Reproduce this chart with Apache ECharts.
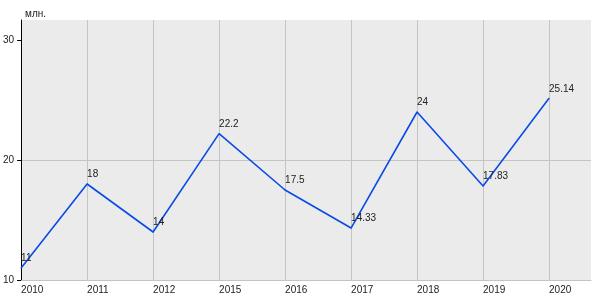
<!DOCTYPE html>
<html><head><meta charset="utf-8">
<script src="https://cdn.jsdelivr.net/npm/echarts@6/dist/echarts.min.js"></script>
<style>html,body{margin:0;padding:0;background:#fff}#c{width:600px;height:300px}</style>
</head><body><div id="c"></div>
<script>
const categories = ['2010','2011','2012','2015','2016','2017','2018','2019','2020'];
const values = [11, 18, 14, 22.2, 17.5, 14.33, 24, 17.83, 25.14];
const yTicks = [10, 20, 30];
const unitLabel = 'млн.';

const chart = echarts.init(document.getElementById('c'), null, {renderer:'canvas'});
const xIdx = categories.map((c,i)=>i);
const FF = 'Liberation Sans, Arial, sans-serif';
chart.setOption({
  animation:false,
  textStyle:{fontFamily:FF},
  title:{text:unitLabel, left:20, top:4, textStyle:{fontSize:10, fontWeight:'normal', color:'#222', fontFamily:FF}},
  grid:{left:21, right:9, top:20, bottom:20, show:true, backgroundColor:'#ebebeb', borderWidth:0},
  xAxis:{type:'value', min:0, max:8.636, interval:1,
    axisLine:{show:true, lineStyle:{color:'#c4c4c4', width:1}},
    axisTick:{show:false},
    axisLabel:{customValues:xIdx, formatter:v=>categories[Math.round(v)], align:'left', margin:5, fontSize:10, color:'#222'},
    splitLine:{show:true, showMinLine:false, showMaxLine:false, lineStyle:{color:'#c4c4c4', width:1}}
  },
  yAxis:{type:'value', min:10, max:31.667, interval:10,
    axisLine:{show:true, lineStyle:{color:'#000', width:1}},
    axisTick:{show:true, customValues:yTicks, length:4, lineStyle:{color:'#000'}},
    axisLabel:{customValues:yTicks, margin:7, fontSize:10, color:'#222'},
    splitLine:{show:true, showMinLine:false, showMaxLine:false, lineStyle:{color:'#c4c4c4', width:1}}
  },
  series:[{type:'line', data:values.map((v,i)=>[i,v]), showSymbol:true, showAllSymbol:true, symbol:'circle', symbolSize:1,
    itemStyle:{color:'#0a4be6'},
    lineStyle:{color:'#0a4be6', width:1.6},
    label:{show:true, position:'top', align:'left', distance:4, fontSize:10, color:'#222', formatter:p=>String(values[p.dataIndex])},
    labelLayout:{hideOverlap:false}
  }]
});
</script></body></html>
